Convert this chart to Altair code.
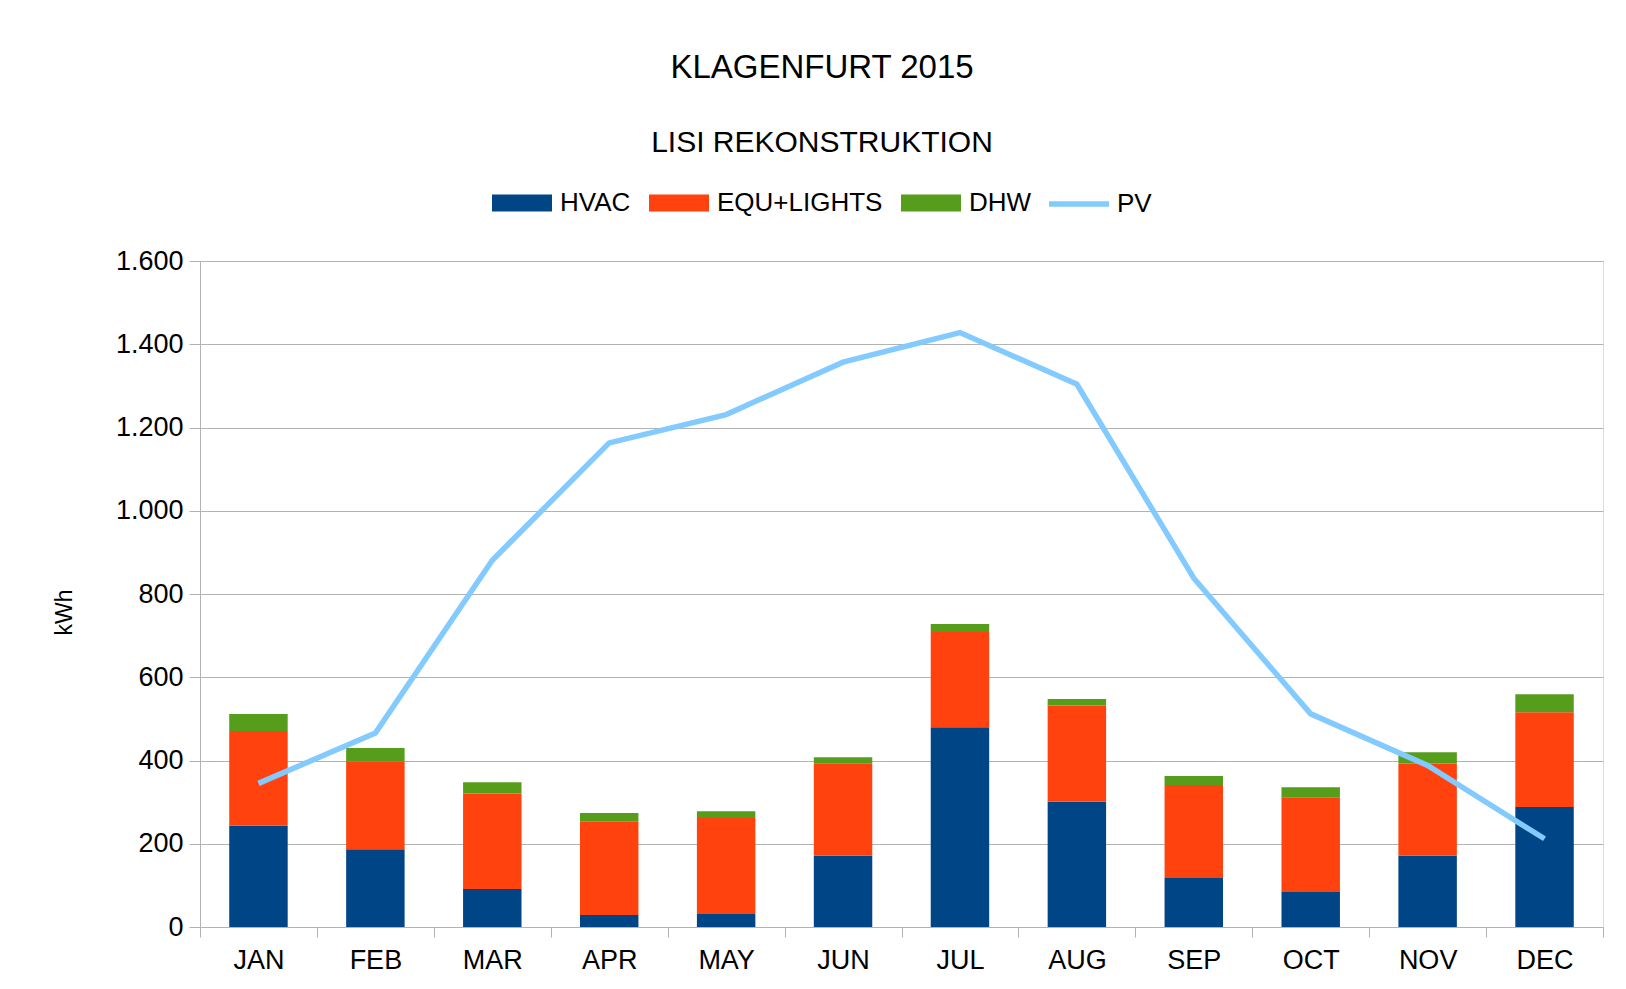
import altair as alt
import pandas as pd

months = ["JAN", "FEB", "MAR", "APR", "MAY", "JUN", "JUL", "AUG", "SEP", "OCT", "NOV", "DEC"]
hvac = [243, 187, 91, 29, 31, 171, 480, 301, 118, 84, 171, 288]
equ_lights = [228, 210, 230, 224, 231, 221, 229, 231, 223, 228, 222, 228]
dhw = [41, 33, 27, 21, 16, 16, 19, 16, 22, 24, 27, 43]
pv = [345, 466, 881, 1163, 1231, 1357, 1428, 1304, 838, 512, 388, 212]

bar_series = ["HVAC", "EQU+LIGHTS", "DHW"]
bar_colors = ["#004586", "#ff420e", "#579d1c"]
line_series = ["PV"]
line_colors = ["#83caff"]

rows = []
for i, m in enumerate(months):
    rows.append({"month": m, "series": "HVAC", "value": hvac[i], "ord": 0})
    rows.append({"month": m, "series": "EQU+LIGHTS", "value": equ_lights[i], "ord": 1})
    rows.append({"month": m, "series": "DHW", "value": dhw[i], "ord": 2})
bars_df = pd.DataFrame(rows)
line_df = pd.DataFrame({"month": months, "value": pv, "series": ["PV"] * len(months)})

FONT = "Liberation Sans"
GRID = "#b3b3b3"

x_enc = alt.X(
    "month:N",
    sort=months,
    scale=alt.Scale(paddingInner=0, paddingOuter=0),
    axis=alt.Axis(
        title=None, labelAngle=0, grid=False, tickBand="extent",
        domainColor=GRID, tickColor=GRID, tickSize=10, tickWidth=1,
        labelFont=FONT, labelFontSize=27, labelColor="black", labelPadding=10,
    ),
)

y_scale = alt.Scale(domain=[0, 1600], nice=False)
y_axis = alt.Axis(
    values=[0, 200, 400, 600, 800, 1000, 1200, 1400, 1600],
    labelExpr="replace(format(datum.value, ',d'), ',', '.')",
    grid=True, gridColor=GRID, gridWidth=1,
    domainColor=GRID, tickColor=GRID, tickSize=11, tickWidth=1,
    labelFont=FONT, labelFontSize=27, labelColor="black", labelPadding=6,
    title="kWh", titleFont=FONT, titleFontSize=23, titleFontWeight="normal",
    titleColor="black", titleAngle=-90, titleBaseline="middle",
    titleX=-136, titleY=351,
)

legend_common = dict(
    title=None, orient="none", direction="horizontal",
    labelFont=FONT, labelFontSize=26, labelColor="black", labelLimit=1000,
    symbolSize=3600, columnPadding=18, padding=0,
)

bars = alt.Chart(bars_df).mark_bar(width=alt.RelativeBandSize(0.5)).encode(
    x=x_enc,
    y=alt.Y("value:Q", stack="zero", scale=y_scale, axis=y_axis),
    color=alt.Color(
        "series:N",
        scale=alt.Scale(domain=bar_series, range=bar_colors),
        legend=alt.Legend(
            legendX=292, legendY=-88, labelOffset=8,
            symbolType="M-1,-0.283H1V0.283H-1Z", symbolStrokeWidth=0,
            symbolOpacity=1,
            **legend_common,
        ),
    ),
    order=alt.Order("ord:Q", sort="ascending"),
)

line = alt.Chart(line_df).mark_line(strokeWidth=5.5).encode(
    x=alt.X("month:N", sort=months),
    y=alt.Y("value:Q", scale=y_scale),
    stroke=alt.Stroke(
        "series:N",
        scale=alt.Scale(domain=line_series, range=line_colors),
        legend=alt.Legend(
            legendX=846, legendY=-90, labelOffset=5,
            symbolType="M-1,0H1", symbolStrokeWidth=5.5,
            **legend_common,
        ),
    ),
)

chart = alt.layer(bars, line).resolve_scale(color="independent").properties(
    width=1403,
    height=666,
    title=alt.TitleParams(
        text="KLAGENFURT 2015",
        subtitle="LISI REKONSTRUKTION",
        font=FONT, subtitleFont=FONT,
        fontSize=33, subtitleFontSize=30,
        fontWeight="normal", subtitleFontWeight="normal",
        color="black", subtitleColor="black",
        anchor="middle", frame="group", dx=-79.5,
        offset=13, subtitlePadding=43,
    ),
    autosize=alt.AutoSizeParams(type="none"),
    padding={"left": 192, "top": 253, "right": 10, "bottom": 50},
).configure_view(stroke=GRID).configure(background="white")

chart.save("out.html", embed_options={"renderer": "svg", "actions": False})
